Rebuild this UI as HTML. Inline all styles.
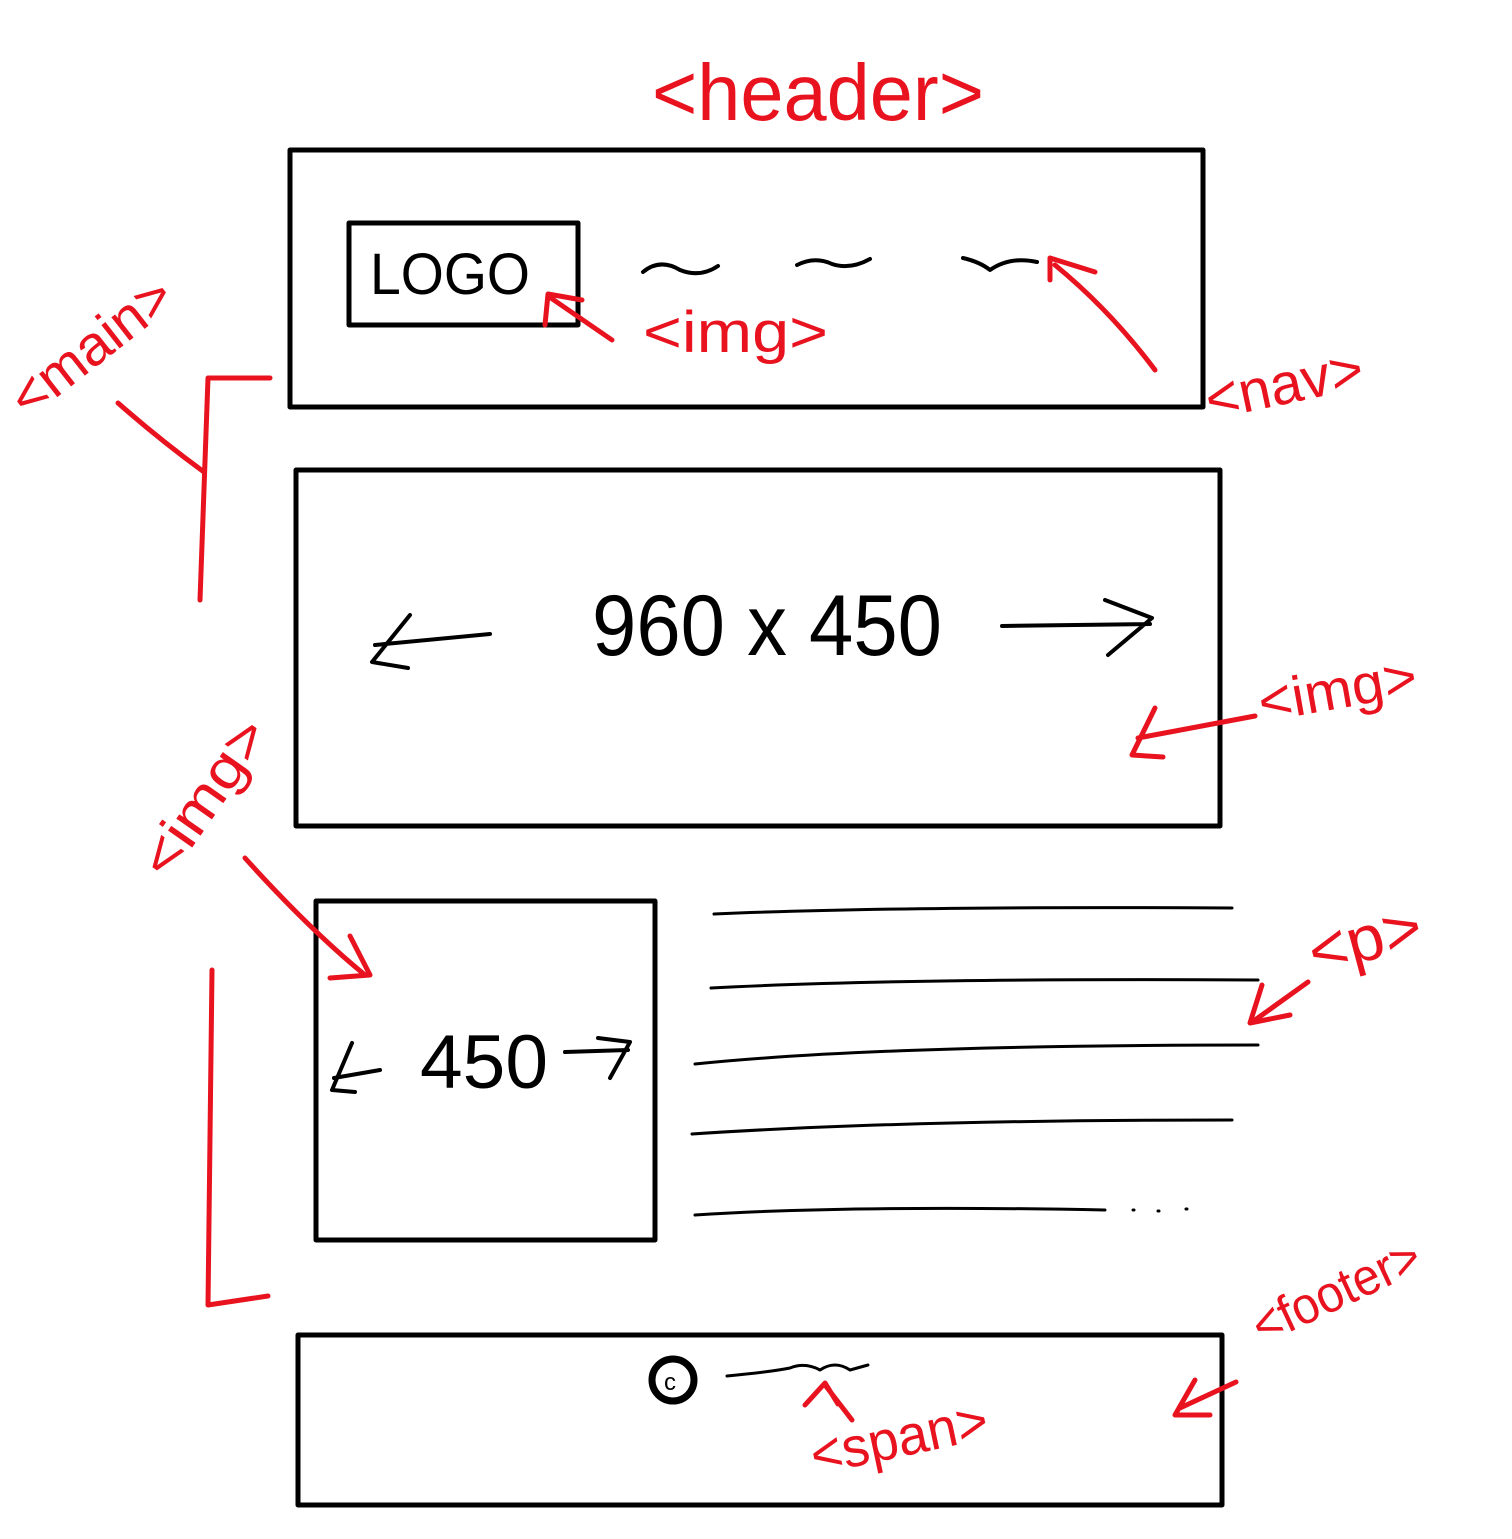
<!DOCTYPE html>
<html><head><meta charset="utf-8"><style>
html,body{margin:0;padding:0;background:#fff;}
svg{display:block;}
.b{fill:none;stroke:#000;stroke-linecap:round;stroke-linejoin:round;}
.r{fill:none;stroke:#e8131f;stroke-width:5;stroke-linecap:round;stroke-linejoin:round;}
.rt{fill:#e8131f;font-family:"Liberation Sans",sans-serif;font-weight:300;}
.bt{fill:#000;font-family:"Liberation Sans",sans-serif;}
</style></head><body>
<svg width="1512" height="1539" viewBox="0 0 1512 1539">
<g>
<rect class="b" x="290" y="150" width="913" height="257" stroke-width="5"/>
<rect class="b" x="349" y="223" width="229" height="102" stroke-width="5"/>
<text class="bt" x="370" y="294" font-size="58" textLength="160" lengthAdjust="spacingAndGlyphs">LOGO</text>
<path class="b" stroke-width="4" d="M643 272 Q660 258 680 270 Q700 278 718 266"/>
<path class="b" stroke-width="4" d="M797 265 Q815 256 832 264 Q850 270 870 259"/>
<path class="b" stroke-width="4" d="M963 258 Q980 262 990 270 Q1010 256 1037 262"/>
</g>
<g>
<rect class="b" x="296" y="470" width="924" height="356" stroke-width="5"/>
<text class="bt" x="592" y="655" font-size="86" textLength="350" lengthAdjust="spacingAndGlyphs">960 x 450</text>
<path class="b" stroke-width="4" d="M490 634 L375 645 M410 615 L372 662 L408 668"/>
<path class="b" stroke-width="4" d="M1002 626 L1150 624 M1105 600 L1152 618 L1108 655"/>
</g>
<g>
<rect class="b" x="316" y="901" width="339" height="339" stroke-width="5"/>
<text class="bt" x="420" y="1088" font-size="76" textLength="128" lengthAdjust="spacingAndGlyphs">450</text>
<path class="b" stroke-width="4" d="M380 1070 L334 1078 M352 1043 L332 1090 L355 1092"/>
<path class="b" stroke-width="4" d="M565 1052 L628 1050 M598 1038 L630 1042 L610 1078"/>
</g>
<g class="b" stroke-width="3">
<path d="M714 914 Q900 906 1232 908"/>
<path d="M711 988 Q900 978 1258 980"/>
<path d="M695 1064 Q880 1045 1258 1045"/>
<path d="M692 1134 Q900 1120 1232 1120"/>
<path d="M695 1215 Q850 1205 1105 1210"/>
<path d="M1133 1210 L1134 1210 M1158 1211 L1159 1211 M1186 1209 L1187 1209"/>
</g>
<g>
<rect class="b" x="298" y="1335" width="924" height="170" stroke-width="5"/>
<circle class="b" cx="673" cy="1380" r="21" stroke-width="7"/>
<text class="bt" x="664" y="1390" font-size="24">c</text>
<path class="b" stroke-width="3" d="M727 1376 Q770 1372 790 1368 Q805 1362 820 1370 Q835 1360 850 1370 L868 1365"/>
</g>
<g>
<text class="rt" x="652" y="120" font-size="80" textLength="332" lengthAdjust="spacingAndGlyphs">&lt;header&gt;</text>
<text class="rt" x="0" y="0" font-size="56" textLength="190" lengthAdjust="spacingAndGlyphs" transform="translate(28 420) rotate(-38)">&lt;main&gt;</text>
<path class="r" d="M270 378 L208 378 L200 600 M118 403 Q160 440 204 472"/>
<text class="rt" x="643" y="352" font-size="58" textLength="185" lengthAdjust="spacingAndGlyphs">&lt;img&gt;</text>
<path class="r" d="M612 340 L548 296 M545 325 L548 294 L582 300"/>
<text class="rt" x="1210" y="420" font-size="58" textLength="160" lengthAdjust="spacingAndGlyphs" transform="rotate(-12 1210 420)">&lt;nav&gt;</text>
<path class="r" d="M1155 370 Q1110 310 1055 265 M1050 280 L1050 258 L1095 272"/>
<text class="rt" x="1262" y="722" font-size="56" textLength="160" lengthAdjust="spacingAndGlyphs" transform="rotate(-10 1262 722)">&lt;img&gt;</text>
<path class="r" d="M1255 716 L1138 738 M1155 708 L1132 755 L1163 757"/>
<text class="rt" x="0" y="0" font-size="56" textLength="180" lengthAdjust="spacingAndGlyphs" transform="translate(168 882) rotate(-55)">&lt;img&gt;</text>
<path class="r" d="M245 858 Q310 930 365 975 M350 936 L370 975 L330 978"/>
<path class="r" d="M212 970 L208 1305 L268 1296"/>
<text class="rt" x="1315" y="975" font-size="64" textLength="115" lengthAdjust="spacingAndGlyphs" transform="rotate(-15 1315 975)">&lt;p&gt;</text>
<path class="r" d="M1308 982 L1255 1020 M1262 985 L1250 1023 L1290 1015"/>
<text class="rt" x="1262" y="1345" font-size="52" textLength="180" lengthAdjust="spacingAndGlyphs" transform="rotate(-25 1262 1345)">&lt;footer&gt;</text>
<path class="r" d="M1236 1382 L1180 1408 M1195 1380 L1175 1415 L1210 1415"/>
<text class="rt" x="815" y="1475" font-size="56" textLength="180" lengthAdjust="spacingAndGlyphs" transform="rotate(-12 815 1475)">&lt;span&gt;</text>
<path class="r" d="M852 1420 L825 1385 M805 1405 L825 1383 L838 1404"/>
</g>
</svg>
</body></html>
